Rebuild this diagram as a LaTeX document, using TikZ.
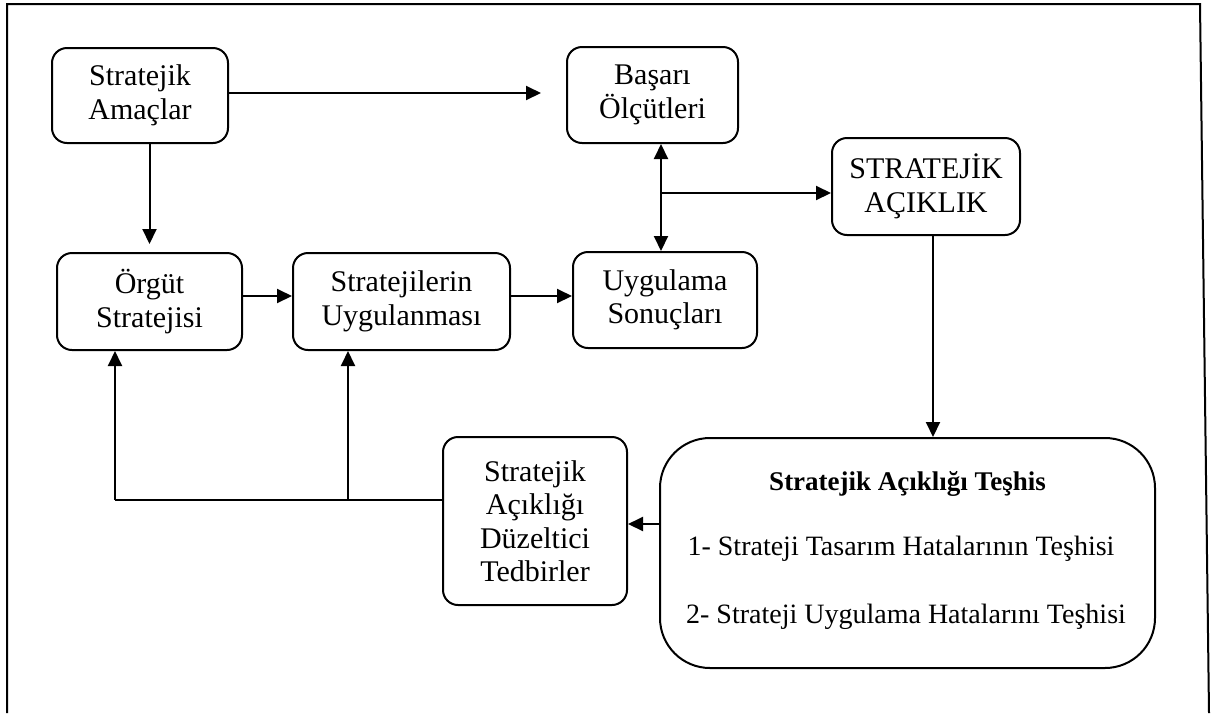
\documentclass[tikz,border=0pt]{standalone}
\usepackage{fontspec}
\setmainfont{Liberation Serif}
\usetikzlibrary{arrows.meta}

\begin{document}
\begin{tikzpicture}[x=1pt,y=-1pt,
  box/.style={draw, line width=2pt, rounded corners=15pt, align=center,
    inner sep=0pt, font=\fontsize{30}{33.5}\selectfont},
  conn/.style={line width=2pt, -{Triangle[length=15pt,width=14pt]}},
  biconn/.style={line width=2pt, {Triangle[length=15pt,width=14pt]}-{Triangle[length=15pt,width=14pt]}},
  plain/.style={line width=2pt},
  txt/.style={anchor=base, inner sep=0pt, font=\fontsize{28}{32}\selectfont}]
\useasboundingbox (0,0) rectangle (1218,713);

% outer frame, open at the bottom
\draw[line width=2pt] (7,713) -- (7,4) -- (1200,4) -- (1209,713);

% boxes
\node[box, minimum width=176pt, minimum height=95pt] (amac) at (140,95.5) {Stratejik\\Amaçlar};
\node[box, minimum width=171pt, minimum height=96pt] (basari) at (652.5,95) {Başarı\\Ölçütleri};
\node[box, minimum width=188pt, minimum height=97pt] (acik) at (926,186.5) {STRATEJİK\\AÇIKLIK};
\node[box, minimum width=185pt, minimum height=97pt] (orgut) at (149.5,301.5) {Örgüt\\Stratejisi};
\node[box, minimum width=217pt, minimum height=97pt] (struyg) at (401.5,301.5) {Stratejilerin\\Uygulanması};
\node[box, minimum width=184pt, minimum height=96pt] (uyg) at (665,300) {Uygulama\\Sonuçları};
\node[box, minimum width=184pt, minimum height=168pt] (duz) at (535,521) {Stratejik\\Açıklığı\\Düzeltici\\Tedbirler};
\node[box, rounded corners=50pt, minimum width=495pt, minimum height=230pt] (teshis) at (907.5,553) {};

% contents of the diagnosis box
\node[txt, font=\fontsize{27}{32}\selectfont\bfseries] (teshisT) at (907.5,490) {Stratejik Açıklığı Teşhis};
\node[txt] (teshis1) at (901,555) {1- Strateji Tasarım Hatalarının Teşhisi};
\node[txt] (teshis2) at (906,623) {2- Strateji Uygulama Hatalarını Teşhisi};

% helper coordinates for the connector routes
\coordinate (j) at (661,193);
\coordinate (k) at (933,0);
\coordinate (m) at (0,524);
\coordinate (n) at (0,500);
\coordinate (p) at (115,500);
\coordinate (q) at (348,500);

% connectors
\draw[conn, shorten >=25pt] (amac.east |- 0,93) -- (basari.west |- 0,93);
\draw[conn, shorten >=8pt] (orgut.north |- amac.south) -- (orgut.north);
\draw[conn] (orgut.east |- 0,296) -- (struyg.west |- 0,296);
\draw[conn] (struyg.east |- 0,296) -- (uyg.west |- 0,296);
\draw[biconn] (j |- basari.south) -- (j |- uyg.north);
\draw[conn] (j) -- (acik.west |- j);
\draw[conn] (k |- acik.south) -- (k |- teshis.north);
\draw[conn] (teshis.west |- m) -- (duz.east |- m);
\draw[plain] (duz.west |- n) -- (p);
\draw[conn] (p) -- (p |- orgut.south);
\draw[conn] (q) -- (q |- struyg.south);
\end{tikzpicture}
\end{document}
